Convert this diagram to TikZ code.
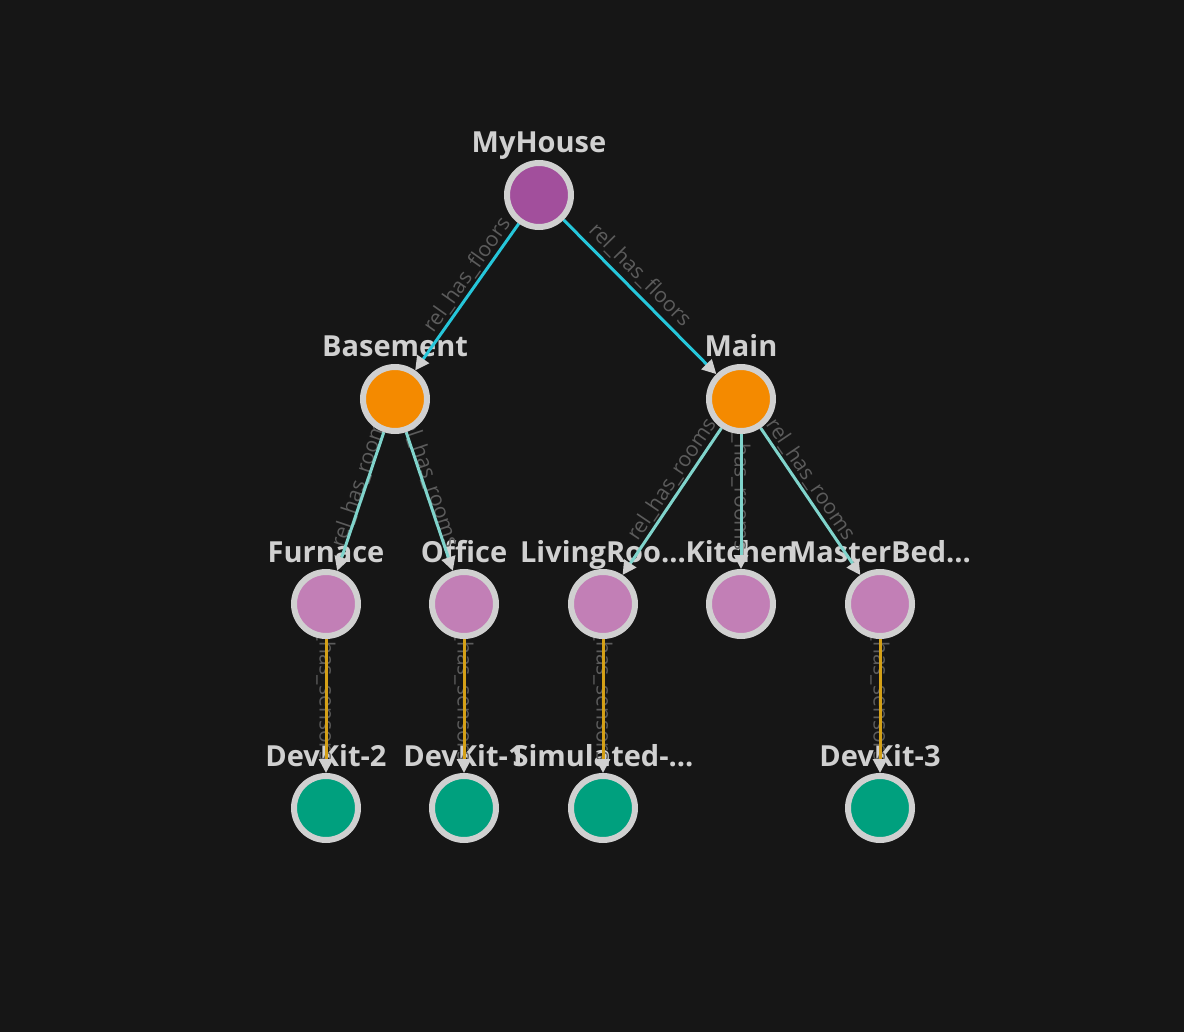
\documentclass[tikz,border=0pt]{standalone}
\usepackage{fontspec}
\setmainfont{Open Sans}
\usetikzlibrary{arrows.meta}

\definecolor{bgcol}{HTML}{161616}
\definecolor{rimcol}{HTML}{D0D0D0}
\definecolor{housecol}{HTML}{A24F9C}
\definecolor{floorcol}{HTML}{F48A00}
\definecolor{roomcol}{HTML}{C27FB6}
\definecolor{sensorcol}{HTML}{00A07E}
\definecolor{flooredge}{HTML}{26C6DA}
\definecolor{roomedge}{HTML}{80D4CC}
\definecolor{sensoredge}{HTML}{D4A017}
\definecolor{relgray}{HTML}{5C5C5C}

\pgfdeclarelayer{bg}
\pgfdeclarelayer{edges}
\pgfdeclarelayer{front}
\pgfsetlayers{bg,main,edges,front}

\tikzset{
  twin/.style={draw=rimcol, circle, line width=3pt, minimum size=32pt, inner sep=0pt},
  house/.style={twin, fill=housecol},
  level/.style={twin, fill=floorcol},
  room/.style={twin, fill=roomcol},
  sensor/.style={twin, fill=sensorcol},
  tname/.style={text=rimcol, font=\fontsize{14.5}{16}\selectfont\bfseries, anchor=base, inner sep=0pt},
  rel/.style={line width=1.5pt, -{Triangle[color=rimcol, length=7pt, width=7pt]}},
  relfloor/.style={rel, draw=flooredge},
  relroom/.style={rel, draw=roomedge},
  relsensor/.style={rel, draw=sensoredge},
  rname/.style={midway, sloped, text=relgray, font=\fontsize{10.5}{12}\selectfont, inner sep=0pt},
  rdown/.style={rname, allow upside down}
}

\begin{document}
\begin{tikzpicture}[x=0.5pt, y=-0.5pt]
	\begin{pgfonlayer}{bg}
		\fill[bgcol] (0,0) rectangle (1184,1032);
	\end{pgfonlayer}

	\begin{pgfonlayer}{front}
		\node[house] (myhouse) at (539,195) {};

		\node[level] (basement) at (395,399) {};
		\node[level] (main) at (741,399) {};

		\node[room] (furnace) at (326,604) {};
		\node[room] (office) at (464,604) {};
		\node[room] (living) at (603,604) {};
		\node[room] (kitchen) at (741,604) {};
		\node[room] (masterbed) at (880,604) {};

		\node[sensor] (devkit2) at (326,808) {};
		\node[sensor] (devkit1) at (464,808) {};
		\node[sensor] (simulated) at (603,808) {};
		\node[sensor] (devkit3) at (880,808) {};
	\end{pgfonlayer}

	\node[tname] (myhouse-t) at ([yshift=21pt]myhouse.center) {MyHouse};
	\node[tname] (basement-t) at ([yshift=21pt]basement.center) {Basement};
	\node[tname] (main-t) at ([yshift=21pt]main.center) {Main};
	\node[tname] (furnace-t) at ([yshift=21pt]furnace.center) {Furnace};
	\node[tname] (office-t) at ([yshift=21pt]office.center) {Office};
	\node[tname] (living-t) at ([yshift=21pt]living.center) {LivingRoo...};
	\node[tname] (kitchen-t) at ([yshift=21pt]kitchen.center) {Kitchen};
	\node[tname] (masterbed-t) at ([yshift=21pt]masterbed.center) {MasterBed...};
	\node[tname] (devkit2-t) at ([yshift=21pt]devkit2.center) {DevKit-2};
	\node[tname] (devkit1-t) at ([yshift=21pt]devkit1.center) {DevKit-1};
	\node[tname] (simulated-t) at ([yshift=21pt]simulated.center) {Simulated-...};
	\node[tname] (devkit3-t) at ([yshift=21pt]devkit3.center) {DevKit-3};

	\begin{pgfonlayer}{edges}
		\path ([yshift=11pt]myhouse.center) -- ([yshift=11pt]basement.center) node[rname] (r1) {rel\_has\_floors};
		\path ([yshift=11pt]myhouse.center) -- ([yshift=11pt]main.center) node[rname] (r2) {rel\_has\_floors};
		\path ([yshift=11pt]basement.center) -- ([yshift=11pt]furnace.center) node[rname] (r3) {rel\_has\_rooms};
		\path ([yshift=11pt]basement.center) -- ([yshift=11pt]office.center) node[rname] (r4) {rel\_has\_rooms};
		\path ([yshift=11pt]main.center) -- ([yshift=11pt]living.center) node[rname] (r5) {rel\_has\_rooms};
		\path ([yshift=11pt]main.center) -- ([yshift=11pt]kitchen.center) node[rdown] (r6) {rel\_has\_rooms};
		\path ([yshift=11pt]main.center) -- ([yshift=11pt]masterbed.center) node[rname] (r7) {rel\_has\_rooms};
		\path ([yshift=11pt]furnace.center) -- ([yshift=11pt]devkit2.center) node[rdown] (r8) {rel\_has\_sensors};
		\path ([yshift=11pt]office.center) -- ([yshift=11pt]devkit1.center) node[rdown] (r9) {rel\_has\_sensors};
		\path ([yshift=11pt]living.center) -- ([yshift=11pt]simulated.center) node[rdown] (r10) {rel\_has\_sensors};
		\path ([yshift=11pt]masterbed.center) -- ([yshift=11pt]devkit3.center) node[rdown] (r11) {rel\_has\_sensors};

		\draw[relfloor] (myhouse) -- (basement);
		\draw[relfloor] (myhouse) -- (main);
		\draw[relroom] (basement) -- (furnace);
		\draw[relroom] (basement) -- (office);
		\draw[relroom] (main) -- (living);
		\draw[relroom] (main) -- (kitchen);
		\draw[relroom] (main) -- (masterbed);
		\draw[relsensor] (furnace) -- (devkit2);
		\draw[relsensor] (office) -- (devkit1);
		\draw[relsensor] (living) -- (simulated);
		\draw[relsensor] (masterbed) -- (devkit3);
	\end{pgfonlayer}
\end{tikzpicture}
\end{document}
